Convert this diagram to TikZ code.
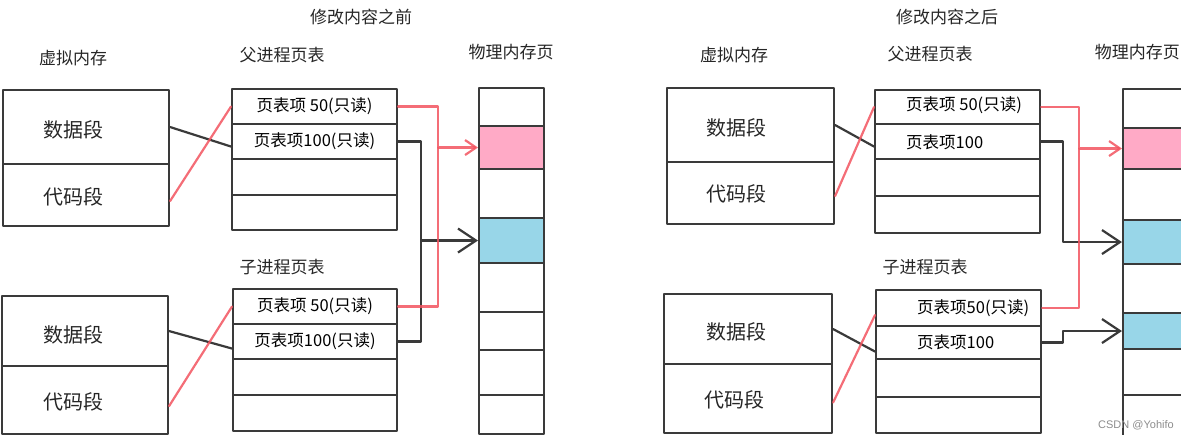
\documentclass[tikz,border=0pt]{standalone}
\usepackage{fontspec}
\setmainfont{Noto Sans CJK SC}
\newfontfamily\wmfont{Liberation Sans}
\usetikzlibrary{arrows.meta}
\definecolor{ink}{HTML}{3A3A3A}
\definecolor{redln}{HTML}{F2545F}
\definecolor{pinkfill}{HTML}{FFAAC6}
\definecolor{bluefill}{HTML}{98D6E8}
\begin{document}
\begin{tikzpicture}[x=1pt,y=-1pt,
  cell/.style={draw=ink, line width=2.1pt, anchor=north west, inner sep=0pt, font=\fontsize{16.5}{18}\selectfont},
  lbl/.style={inner sep=0pt, font=\fontsize{17}{19}\selectfont, text=black!85},
  seg/.style={inner sep=0pt, font=\fontsize{20}{22}\selectfont, text=black!85},
  ptxt/.style={inner sep=0pt, anchor=west, font=\fontsize{16.5}{18}\selectfont},
  conn/.style={draw=ink, line width=2.2pt},
  rconn/.style={draw=redln, line width=2.2pt, opacity=0.85},
  rtip/.style={-{Straight Barb[length=11pt,width=15pt]}},
  btip/.style={-{Straight Barb[length=18pt,width=24pt]}},
  line join=round, line cap=round]
\useasboundingbox (0,0) rectangle (1181,435);

% ================= LEFT: before =================
\node[lbl] (ltitle) at (361,17) {修改内容之前};
\node[lbl] (lvlbl) at (73,58) {虚拟内存};
\node[lbl] (lplbl) at (282,55) {父进程页表};
\node[lbl] (lmlbl) at (511,52) {物理内存页};
\node[lbl] (lclbl) at (282,267) {子进程页表};

% virtual memory boxes
\node[cell, minimum width=166pt, minimum height=74pt] (lvd) at (2,89) {};
\node[cell, minimum width=166pt, minimum height=62pt] (lvc) at (2,163) {};
\node[seg] (lvdt) at (73,130) {数据段};
\node[seg] (lvct) at (73,197) {代码段};
\node[cell, minimum width=166pt, minimum height=70pt] (lvd2) at (1,295) {};
\node[cell, minimum width=166pt, minimum height=68pt] (lvc2) at (1,365) {};
\node[seg] (lvdt2) at (73,335) {数据段};
\node[seg] (lvct2) at (73,402) {代码段};

% parent page table
\node[cell, minimum width=165pt, minimum height=35pt] (lp1) at (231,88) {页表项 50(只读)};
\node[cell, minimum width=165pt, minimum height=35pt] (lp2) at (231,123) {页表项100(只读)};
\node[cell, minimum width=165pt, minimum height=36pt] (lp3) at (231,158) {};
\node[cell, minimum width=165pt, minimum height=35pt] (lp4) at (231,194) {};
% child page table
\node[cell, minimum width=164pt, minimum height=35pt] (lc1) at (232,288) {页表项 50(只读)};
\node[cell, minimum width=164pt, minimum height=35pt] (lc2) at (232,323) {页表项100(只读)};
\node[cell, minimum width=164pt, minimum height=36pt] (lc3) at (232,358) {};
\node[cell, minimum width=164pt, minimum height=36pt] (lc4) at (232,394) {};

% physical memory
\node[cell, minimum width=65pt, minimum height=38pt] (lm1) at (478,87) {};
\node[cell, fill=pinkfill, minimum width=65pt, minimum height=43pt] (lm2) at (478,125) {};
\node[cell, minimum width=65pt, minimum height=49pt] (lm3) at (478,168) {};
\node[cell, fill=bluefill, minimum width=65pt, minimum height=45pt] (lm4) at (478,217) {};
\node[cell, minimum width=65pt, minimum height=49pt] (lm5) at (478,262) {};
\node[cell, minimum width=65pt, minimum height=38pt] (lm6) at (478,311) {};
\node[cell, minimum width=65pt, minimum height=45pt] (lm7) at (478,349) {};
\node[cell, minimum width=65pt, minimum height=39pt] (lm8) at (478,394) {};

% connectors virtual -> page table
\draw[conn] (lvd.east) -- ([yshift=-5pt]lp2.west);
\draw[rconn] ([yshift=-6pt]lvc.east) -- (lp1.west);
\draw[conn] (lvd2.east) -- ([yshift=-7pt]lc2.west);
\draw[rconn] ([yshift=-6pt]lvc2.east) -- (lc1.west);

% page table -> physical
\coordinate (lrx) at (438,0);
\coordinate (lbx) at (421,0);
\draw[conn, btip] (lp2.east) -| (lbx |- lm4.west) -- (lm4.west);
\draw[conn] (lc2.east) -| (lbx |- lm4.west);
\draw[rconn, rtip] (lp1.east) -| (lrx |- lm2.west) -- (lm2.west);
\draw[rconn] (lc1.east) -| (lrx |- lm2.west);

% ================= RIGHT: after =================
\node[lbl] (rtitle) at (947,17) {修改内容之后};
\node[lbl] (rvlbl) at (734,55) {虚拟内存};
\node[lbl] (rplbl) at (930,54) {父进程页表};
\node[lbl, anchor=east] (rmlbl) at (1180,52) {物理内存页};
\node[lbl] (rclbl) at (925,267) {子进程页表};

\node[cell, minimum width=167pt, minimum height=74pt] (rvd) at (666,87) {};
\node[cell, minimum width=167pt, minimum height=62pt] (rvc) at (666,161) {};
\node[seg] (rvdt) at (736,128) {数据段};
\node[seg] (rvct) at (736,194) {代码段};
\node[cell, minimum width=168pt, minimum height=70pt] (rvd2) at (663,293) {};
\node[cell, minimum width=168pt, minimum height=69pt] (rvc2) at (663,363) {};
\node[seg] (rvdt2) at (736,332) {数据段};
\node[seg] (rvct2) at (734,400) {代码段};

\node[cell, minimum width=165pt, minimum height=34pt] (rp1) at (874,89) {};
\node[cell, minimum width=165pt, minimum height=35pt] (rp2) at (874,123) {};
\node[cell, minimum width=165pt, minimum height=37pt] (rp3) at (874,158) {};
\node[cell, minimum width=165pt, minimum height=37pt] (rp4) at (874,195) {};
\node[ptxt] (rp1t) at (906,105) {页表项 50(只读)};
\node[ptxt] (rp2t) at (906,142) {页表项100};

\node[cell, minimum width=165pt, minimum height=36pt] (rc1) at (875,289) {};
\node[cell, minimum width=165pt, minimum height=33pt] (rc2) at (875,325) {};
\node[cell, minimum width=165pt, minimum height=38pt] (rc3) at (875,358) {};
\node[cell, minimum width=165pt, minimum height=36pt] (rc4) at (875,396) {};
\node[ptxt] (rc1t) at (917,308) {页表项50(只读)};
\node[ptxt] (rc2t) at (917,342) {页表项100};

\node[cell, minimum width=70pt, minimum height=39pt] (rm1) at (1122,88) {};
\node[cell, fill=pinkfill, minimum width=70pt, minimum height=41pt] (rm2) at (1122,127) {};
\node[cell, minimum width=70pt, minimum height=51pt] (rm3) at (1122,168) {};
\node[cell, fill=bluefill, minimum width=70pt, minimum height=44pt] (rm4) at (1122,219) {};
\node[cell, minimum width=70pt, minimum height=49pt] (rm5) at (1122,263) {};
\node[cell, fill=bluefill, minimum width=70pt, minimum height=36pt] (rm6) at (1122,312) {};
\node[cell, minimum width=70pt, minimum height=46pt] (rm7) at (1122,348) {};
\node[cell, minimum width=70pt, minimum height=42pt] (rm8) at (1122,394) {};

\draw[conn] (rvd.east) -- ([yshift=-5pt]rp2.west);
\draw[rconn] ([yshift=-3pt]rvc.east) -- (rp1.west);
\draw[conn] (rvd2.east) -- ([yshift=-9pt]rc2.west);
\draw[rconn] ([yshift=-4pt]rvc2.east) -- ([yshift=-7pt]rc1.west);

\coordinate (rrx) at (1079,0);
\coordinate (rbx) at (1063,0);
\draw[conn, btip] (rp2.east) -| (rbx |- rm4.west) -- (rm4.west);
\draw[conn, btip] (rc2.east) -| (rbx |- rm6.west) -- (rm6.west);
\draw[rconn, rtip] (rp1.east) -| (rrx |- rm2.west) -- (rm2.west);
\draw[rconn] (rc1.east) -| (rrx |- rm2.west);

\node[anchor=west, inner sep=0pt, font=\wmfont\fontsize{11}{12}\selectfont, text=black!45] (wm) at (1098,425) {CSDN @Yohifo};
\end{tikzpicture}
\end{document}
